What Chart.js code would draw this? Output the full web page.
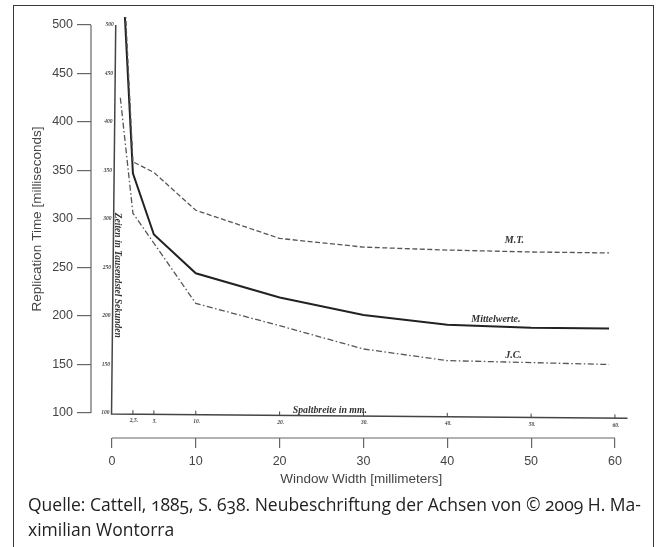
<!DOCTYPE html>
<html><head><meta charset="utf-8">
<script src="https://cdn.jsdelivr.net/npm/chart.js@4"></script>
<style>
html,body{margin:0;padding:0;background:#fff;width:659px;height:547px;overflow:hidden}
#wrap{position:absolute;left:0;top:0;width:659px;height:495px}
#frame{position:absolute;left:13px;top:5px;width:641px;height:600px;border:1.5px solid #3a3a3a;box-sizing:border-box;pointer-events:none}
#cap{position:absolute;left:28px;top:492px;font-family:"Open Sans",sans-serif;font-size:17.5px;line-height:24.5px;color:#222;font-feature-settings:"onum";font-variant-numeric:oldstyle-nums;white-space:nowrap}
</style></head>
<body>
<div id="wrap"><canvas id="c" width="659" height="495"></canvas></div>
<div id="cap">Quelle: Cattell, 1885, S. 638. Neubeschriftung der Achsen von © 2009 H. Ma-<br>ximilian Wontorra</div>
<div id="frame"></div>
<script>
// ---- data ----
const widths      = [1, 2.5, 5, 10, 20, 30, 40, 50, 59.3];
const mtValues    = [620, 359, 348, 309, 280, 271, 268, 266, 265];
const meanValues  = [600, 347, 284, 244, 219, 201, 191, 188, 187];
const jcValues    = [425, 306, 275, 213, 190, 166, 154, 152, 150];
const seriesNames = ['M.T.', 'Mittelwerte.', 'J.C.'];
const nameX       = [48, 45.8, 47.9];
const nameY       = [278, 196, 159];
const xTicks      = [0, 10, 20, 30, 40, 50, 60];
const yTicks      = [100, 150, 200, 250, 300, 350, 400, 450, 500];
const scanXTicks  = [2.5, 5, 10, 20, 30, 40, 50, 60];
const scanXLabels = ['2,5.', '5.', '10.', '20.', '30.', '40.', '50.', '60.'];
const scanYTicks  = [100, 150, 200, 250, 300, 350, 400, 450, 500];
const scanYLabels = ['100', '150', '200', '250', '300', '350', '400', '450', '500'];
const scanXTitle  = 'Spaltbreite in mm.';
const scanYTitle  = 'Zeiten in Tausendstel Sekunden';
const xTitle = 'Window Width [millimeters]';
const yTitle = 'Replication Time [milliseconds]';

const pts = vals => widths.map((w, i) => ({x: w, y: vals[i]}));
const lineClip = {left: 30, top: -17, right: 0, bottom: 0};

const scanPlugin = {
  id: 'scan',
  beforeDatasetsDraw(chart) {
    const {ctx, scales: {x, y}} = chart;
    ctx.save();
    // scanned figure axes
    ctx.strokeStyle = '#444'; ctx.lineWidth = 1.5;
    ctx.beginPath();
    ctx.moveTo(x.getPixelForValue(0.45), y.getPixelForValue(500));
    ctx.lineTo(x.getPixelForValue(-0.05), y.getPixelForValue(99));
    ctx.lineTo(x.getPixelForValue(61.5), y.getPixelForValue(94.5));
    ctx.stroke();
    ctx.lineWidth = 1;
    ctx.fillStyle = '#444';
    ctx.font = 'italic bold 5.5px "Liberation Serif"';
    ctx.textAlign = 'center'; ctx.textBaseline = 'top';
    scanXTicks.forEach((v, i) => {
      const px = x.getPixelForValue(v);
      const py = y.getPixelForValue(99 - v * 0.075);
      ctx.beginPath(); ctx.moveTo(px, py); ctx.lineTo(px, py - 4); ctx.stroke();
      ctx.fillText(scanXLabels[i], px + 1, py + 4);
    });
    ctx.textAlign = 'right'; ctx.textBaseline = 'middle';
    scanYTicks.forEach((v, i) => {
      const px = x.getPixelForValue(-0.3 + (v - 100) / 400 * 0.5);
      ctx.fillText(scanYLabels[i], px, y.getPixelForValue(v));
    });
    ctx.fillStyle = '#333';
    ctx.font = 'italic bold 9.8px "Liberation Serif"';
    ctx.textAlign = 'center'; ctx.textBaseline = 'alphabetic';
    ctx.fillText(scanXTitle, x.getPixelForValue(26), y.getPixelForValue(100.5));
    ctx.save();
    ctx.translate(x.getPixelForValue(0.6), y.getPixelForValue(242));
    ctx.rotate(Math.PI / 2);
    ctx.font = 'italic bold 9.5px "Liberation Serif"';
    ctx.textBaseline = 'middle';
    ctx.fillText(scanYTitle, 0, 0);
    ctx.restore();
    // series names
    ctx.font = 'italic bold 10px "Liberation Serif"';
    ctx.textBaseline = 'middle';
    seriesNames.forEach((n, i) => ctx.fillText(n, x.getPixelForValue(nameX[i]), y.getPixelForValue(nameY[i])));
    ctx.restore();
  },
  afterDraw(chart) {
    const {ctx, chartArea, scales: {x, y}} = chart;
    ctx.save();
    ctx.strokeStyle = '#666'; ctx.lineWidth = 1.2;
    ctx.beginPath();
    ctx.moveTo(chartArea.left, y.getPixelForValue(yTicks[0]));
    ctx.lineTo(chartArea.left, y.getPixelForValue(yTicks[yTicks.length - 1]));
    ctx.moveTo(x.getPixelForValue(xTicks[0]), chartArea.bottom);
    ctx.lineTo(x.getPixelForValue(xTicks[xTicks.length - 1]), chartArea.bottom);
    ctx.stroke();
    ctx.restore();
  }
};

new Chart(document.getElementById('c'), {
  type: 'line',
  data: {
    datasets: [
      {label: seriesNames[0], data: pts(mtValues), borderColor: '#555', borderWidth: 1.3, borderDash: [5, 2.5], pointRadius: 0, tension: 0, clip: lineClip},
      {label: seriesNames[1], data: pts(meanValues), borderColor: '#222', borderWidth: 2, pointRadius: 0, tension: 0, clip: lineClip},
      {label: seriesNames[2], data: pts(jcValues), borderColor: '#555', borderWidth: 1.3, borderDash: [6, 2.5, 1.5, 2.5], pointRadius: 0, tension: 0, clip: lineClip}
    ]
  },
  options: {
    responsive: false, animation: false, devicePixelRatio: 1,
    layout: {padding: {left: 0, top: 0, right: 27.3, bottom: 0}},
    plugins: {legend: {display: false}, tooltip: {enabled: false}},
    scales: {
      x: {
        type: 'linear', min: -2.5, max: 62,
        afterBuildTicks: s => { s.ticks = xTicks.map(v => ({value: v})); },
        afterFit: s => { s.height = 57; s.paddingLeft = 0; s.paddingRight = 0; },
        grid: {drawOnChartArea: false, drawTicks: true, tickLength: 10, color: '#666', lineWidth: 1.2},
        border: {display: false},
        ticks: {padding: 6, color: '#444', maxRotation: 0, autoSkip: false, font: {family: 'Liberation Sans', size: 12.5}},
        title: {display: true, text: xTitle, color: '#444', font: {family: 'Liberation Sans', size: 13.5}, padding: {top: 0, bottom: 8}}
      },
      y: {
        type: 'linear', min: 74.23, max: 525.77,
        afterBuildTicks: s => { s.ticks = yTicks.map(v => ({value: v})); },
        afterFit: s => { s.width = 91; s.paddingTop = 0; s.paddingBottom = 0; },
        grid: {drawOnChartArea: false, drawTicks: true, tickLength: 14, color: '#666', lineWidth: 1.2},
        border: {display: false},
        ticks: {padding: 4, color: '#444', autoSkip: false, font: {family: 'Liberation Sans', size: 12.5}},
        title: {display: true, text: yTitle, color: '#444', font: {family: 'Liberation Sans', size: 13.5}, padding: {top: 29, bottom: 0}}
      }
    }
  },
  plugins: [scanPlugin]
});
</script>
</body></html>
